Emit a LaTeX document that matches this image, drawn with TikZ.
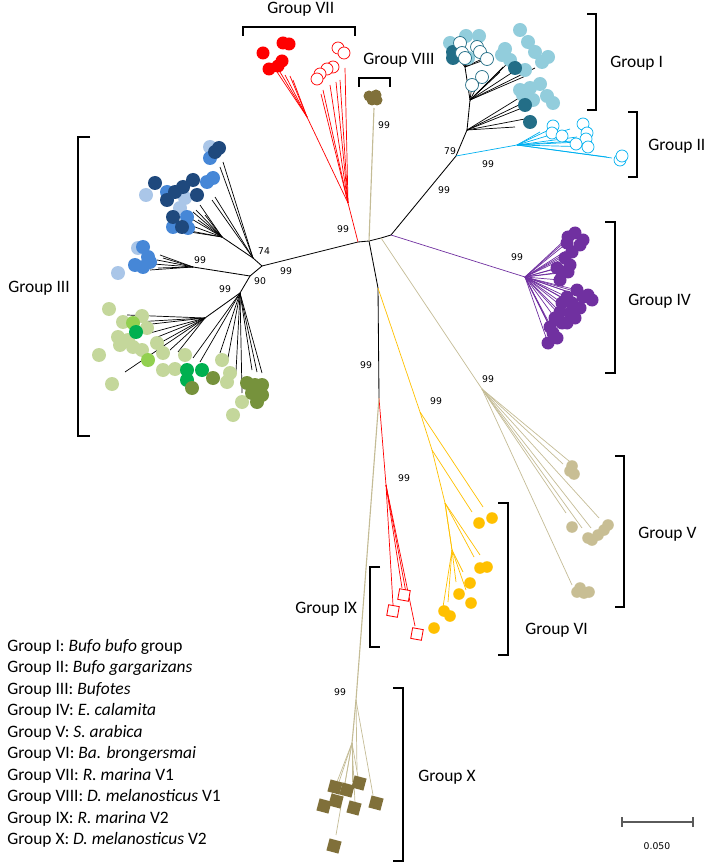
\documentclass[tikz,border=0pt]{standalone}
\usepackage{fontspec}
\setmainfont{Carlito}
\newfontfamily\numfont{DejaVu Sans}
\definecolor{redVII}{RGB}{255,0,0}
\definecolor{khakiLine}{RGB}{196,188,150}
\definecolor{oliveDark}{RGB}{128,112,58}
\definecolor{tanV}{RGB}{200,190,148}
\definecolor{purpleIV}{RGB}{112,48,160}
\definecolor{yellowVI}{RGB}{255,192,0}
\definecolor{cyanII}{RGB}{0,176,240}
\definecolor{lightBlueI}{RGB}{146,205,220}
\definecolor{tealI}{RGB}{35,110,135}
\definecolor{darkBlueIII}{RGB}{31,73,125}
\definecolor{blueIII}{RGB}{70,135,215}
\definecolor{paleBlueIII}{RGB}{170,198,232}
\definecolor{paleGreenIII}{RGB}{196,215,155}
\definecolor{limeIII}{RGB}{146,208,80}
\definecolor{greenIII}{RGB}{0,176,80}
\definecolor{oliveIII}{RGB}{118,146,60}
\definecolor{scaleGray}{RGB}{90,90,90}

\begin{document}
\begin{tikzpicture}[x=0.025cm,y=-0.025cm,
    trunk/.style={black,line width=0.6pt},
    twig/.style={line width=0.5pt},
    boot/.style={font=\numfont\fontsize{6.6}{8}\selectfont,inner sep=0pt},
    grp/.style={anchor=base west,font=\fontsize{12.4}{15}\selectfont,inner sep=0pt},
    grpBracket/.style={line width=1.4pt},
    legendline/.style={anchor=base west,font=\fontsize{12.4}{15}\selectfont,inner sep=0pt},
    sqIX/.style={draw=redVII,fill=white,line width=0.6pt,minimum size=0.27cm,inner sep=0pt,rotate=-10},
    sqX/.style={fill=oliveDark,minimum size=0.31cm,inner sep=0pt,rotate=-15}]
\useasboundingbox (0,0) rectangle (708,865);

% Inner nodes of the tree
\coordinate (c0) at (358,242);
\coordinate (c1) at (369,241);
\coordinate (c5) at (381,238);
\coordinate (c2) at (391,235);
\coordinate (c3) at (378,288);
\coordinate (c4) at (379,398);
\coordinate (nI) at (456,156);
\coordinate (nIa) at (467,130);
\coordinate (nIb) at (470,100);
\coordinate (nIc) at (465,67);
\coordinate (nII) at (517,145);
\coordinate (nIII) at (262,266);
\coordinate (nIIIup) at (253,258);
\coordinate (nIIIupb) at (222,237);
\coordinate (nIIIlo) at (250,276);
\coordinate (nIIImid) at (193,267);
\coordinate (nIIIgr) at (240,293);
\coordinate (nIIIgrb) at (205,318);
\coordinate (nIV) at (525,277);
\coordinate (nV) at (482,389);
\coordinate (nVI) at (420,412);
\coordinate (nVIb) at (432,450);
\coordinate (nVIc) at (445,503);
\coordinate (nVId) at (452,550);
\coordinate (nVIIb) at (348,203);
\coordinate (nVIIa) at (307,117);
\coordinate (nVIII) at (374,108);
\coordinate (nIX) at (386,485);
\coordinate (nX) at (356,700);
\coordinate (nXb) at (352,743);

% Backbone
\draw[trunk] (c0) -- (c1) -- (c5) -- (c2);
\draw[trunk] (c0) -- (nIII) -- (nIIIup);
\draw[trunk] (nIII) -- (nIIIlo) -- (nIIImid);
\draw[trunk] (nIIIlo) -- (nIIIgr) -- (nIIIgrb);
\draw[trunk] (nIIIup) -- (nIIIupb);
\draw[trunk] (c2) -- (nI) -- (nIa) -- (nIb) -- (nIc);
\draw[trunk] (c1) -- (c3) -- (c4);
\draw[twig,redVII] (c0) -- (nVIIb) -- (nVIIa);
\draw[twig,khakiLine,line width=0.8pt] (c1) -- (nVIII);
\draw[twig,purpleIV] (c2) -- (nIV);
\draw[twig,khakiLine] (c5) -- (nV);
\draw[twig,yellowVI] (c3) -- (nVI) -- (nVIb) -- (nVIc) -- (nVId);
\draw[twig,redVII] (c4) -- (nIX);
\draw[twig,khakiLine,line width=0.8pt] (c4) -- (nX) -- (nXb);
\draw[twig,cyanII] (nI) -- (nII);

% Leaf branches
\foreach \x/\y in {515/127,530/118,522/108,523/103,519/98}
  \draw[twig] (nIa) -- (\x,\y);
\foreach \x/\y in {503/67,513/72,528/75,500/72,535/68,508/63,482/77,472/85}
  \draw[twig] (nIb) -- (\x,\y);
\foreach \x/\y in {458/58,470/57,475/52,462/50,480/60,487/59}
  \draw[twig] (nIc) -- (\x,\y);
\foreach \x/\y in {540/132,553/128,570/129,577/137,587/140,593/147,607/157,612/158,580/142}
  \draw[twig,cyanII] (nII) -- (\x,\y);
\foreach \x/\y in {223/162,220/167,215/197,212/200}
  \draw[twig] (nIIIup) -- (\x,\y);
\foreach \x/\y in {193/212,190/218,187/224,196/210,200/205,185/230,190/232,198/220,205/215}
  \draw[twig] (nIIIupb) -- (\x,\y);
\foreach \x/\y in {160/255,157/260,153/264,150/270,158/268,163/258}
  \draw[twig] (nIIImid) -- (\x,\y);
\foreach \x/\y in {220/353,227/363,236/372,242/393,257/372,252/370,262/373,200/362,193/358}
  \draw[twig] (nIIIgr) -- (\x,\y);
\foreach \x/\y in {127/315,143/325,150/333,155/338,160/343,170/350,178/352,125/372,135/322}
  \draw[twig] (nIIIgrb) -- (\x,\y);
\foreach \x/\y in {568/237,575/233,580/245,567/243,565/258,570/265,562/272,568/272,560/280,557/268,572/252,583/240,
                   577/290,588/295,592/300,567/297,562/303,572/303,560/312,570/313,555/318,567/323,550/327,553/333,548/343,557/338,580/308,583/297}
  \draw[twig,purpleIV] (nIV) -- (\x,\y);
\foreach \x/\y in {563/464,566/513,582/528,591/528,599/518,572/585,575/466}
  \draw[twig,khakiLine] (nV) -- (\x,\y);
\draw[twig,yellowVI] (nVI) -- (483,507);
\draw[twig,yellowVI] (nVIb) -- (472,512);
\foreach \x/\y in {480/555,474/557,452/550}
  \draw[twig,yellowVI] (nVIc) -- (\x,\y);
\foreach \x/\y in {456/582,463/572,466/590,443/607,448/602}
  \draw[twig,yellowVI] (nVId) -- (\x,\y);
\foreach \x/\y in {277/72,285/75,290/76,293/80,280/72}
  \draw[twig,redVII] (nVIIa) -- (\x,\y);
\foreach \x/\y in {345/68,340/80,336/82,330/85,323/90,321/94}
  \draw[twig,redVII] (nVIIb) -- (\x,\y);
\foreach \x/\y in {393/605,402/588,407/598,415/626}
  \draw[twig,redVII] (nIX) -- (\x,\y);
\foreach \x/\y in {373/795,357/770}
  \draw[twig,khakiLine] (nX) -- (\x,\y);
\foreach \x/\y in {338/785,345/783,352/782,330/800,336/835,358/777,355/803}
  \draw[twig,khakiLine] (nXb) -- (\x,\y);

% Tips: Group I and II
\foreach \x/\y in {450/43,466/36,479/36,468/58,505/49,502/55,510/60,525/70,520/30,528/42,535/52,548/57,542/62,530/88,540/84,547/96,553/103,523/95,533/100,520/90}
  \fill[lightBlueI] (\x,\y) circle (7);
\foreach \x/\y in {453/52,453/58,515/68,525/105,530/122}
  \fill[tealI] (\x,\y) circle (7);
\foreach \x/\y in {460/43,462/53,465/58,477/47,480/52,487/59,482/77,472/85}
  \filldraw[fill=white,draw=tealI,line width=0.5pt] (\x,\y) circle (6.5);
\foreach \x/\y in {553/126,552/133,562/136,583/124,587/133,586/139,576/144,588/147,620/160,622/156}
  \filldraw[fill=white,draw=cyanII,line width=0.5pt] (\x,\y) circle (6);

% Tips: Group III
\foreach \x/\y in {210/147,146/195,185/198,180/208,138/248,118/273}
  \fill[paleBlueIII] (\x,\y) circle (7);
\foreach \x/\y in {210/158,167/192,207/182,213/178,188/228,173/227,187/217,143/247,148/257,135/265,143/267,150/262}
  \fill[blueIII] (\x,\y) circle (7);
\foreach \x/\y in {219/148,215/152,155/183,175/192,183/187,193/180,197/195,167/200,173/217,182/227}
  \fill[darkBlueIII] (\x,\y) circle (7);
\foreach \x/\y in {109/309,123/322,142/316,147/328,118/337,120/345,133/347,142/350,157/343,99/355,163/353,163/370,175/369,185/355,112/384,222/360,230/373,227/382,242/402,233/415,128/340}
  \fill[paleGreenIII] (\x,\y) circle (7);
\foreach \x/\y in {133/323,148/360}
  \fill[limeIII] (\x,\y) circle (7);
\foreach \x/\y in {136/332,187/370,187/380,202/370}
  \fill[greenIII] (\x,\y) circle (7);
\foreach \x/\y in {192/388,213/378,255/385,262/385,257/402,247/383,252/393,262/395}
  \fill[oliveIII] (\x,\y) circle (7);

% Tips: Group IV, V, VI
\foreach \x/\y in {568/237,575/233,580/245,567/243,565/258,570/265,562/272,568/272,560/280,557/268,572/252,583/240,
                   577/290,588/295,592/300,567/297,562/303,572/303,560/312,570/313,555/318,567/323,550/327,553/333,548/343,557/338,580/308,583/297,562/323,575/318}
  \fill[purpleIV] (\x,\y) circle (6.5);
\foreach \x/\y in {572/466,574/474,570/471,572/527,592/540,598/535,604/530,608/525,588/538,577/592,584/593,580/588,589/592}
  \fill[tanV] (\x,\y) circle (5.8);
\foreach \x/\y in {479/523,492/518,480/568,487/567,470/583,459/594,471/603,444/611,450/616,434/628}
  \fill[yellowVI] (\x,\y) circle (5.8);

% Tips: Group VII, VIII, IX, X
\foreach \x/\y in {263/53,283/43,289/44,282/61,269/69,278/66}
  \fill[redVII] (\x,\y) circle (6.5);
\foreach \x/\y in {338/48,344/53,333/67,327/69,320/74,317/79}
  \filldraw[fill=white,draw=redVII,line width=0.5pt] (\x,\y) circle (6);
\foreach \x/\y in {369/96,376/95,372/100,377/100}
  \fill[oliveDark] (\x,\y) circle (5.5);
\foreach \x/\y [count=\i] in {393/611,404/595,417/634}
  \node[sqIX] (sq\i) at (\x,\y) {};
\foreach \x/\y [count=\i] in {335/787,347/790,359/783,324/806,336/801,354/808,376/803,334/846}
  \node[sqX] (sqx\i) at (\x,\y) {};

% Bootstrap values
\node[boot] (bVII) at (343,229) {99};
\node[boot] (bVIII) at (384,125) {99};
\node[boot] (bI) at (450,151) {79};
\node[boot] (bIst) at (444,190) {99};
\node[boot] (bII) at (488,164) {99};
\node[boot] (bIV) at (517,257) {99};
\node[boot] (bV) at (488,379) {99};
\node[boot] (bVI) at (436,401) {99};
\node[boot] (bDown) at (366,365) {99};
\node[boot] (bIX) at (404,478) {99};
\node[boot] (bX) at (340,692) {99};
\node[boot] (bIIIa) at (264,251) {74};
\node[boot] (bIIIb) at (286,271) {99};
\node[boot] (bIIIc) at (260,281) {90};
\node[boot] (bIIId) at (200,260) {99};
\node[boot] (bIIIe) at (225,289) {99};

% Brackets
\draw[grpBracket] (243,36) -- (243,27) -- (355,27) -- (355,36);
\draw[grpBracket] (359,87) -- (359,78) -- (390,78) -- (390,87);
\draw[grpBracket] (587,14) -- (596,14) -- (596,110) -- (587,110);
\draw[grpBracket] (628,112) -- (637,112) -- (637,177) -- (628,177);
\draw[grpBracket] (90,137) -- (78,137) -- (78,436) -- (90,436);
\draw[grpBracket] (605,222) -- (615,222) -- (615,373) -- (605,373);
\draw[grpBracket] (615,456) -- (624,456) -- (624,607) -- (615,607);
\draw[grpBracket] (498,503) -- (508,503) -- (508,655) -- (498,655);
\draw[grpBracket] (380,567) -- (370,567) -- (370,647) -- (380,647);
\draw[grpBracket] (393,688) -- (403,688) -- (403,861) -- (393,861);

% Group labels
\node[grp] (lVII) at (267,14) {Group VII};
\node[grp] (lVIII) at (363,65) {Group VIII};
\node[grp] (lI) at (610,68) {Group I};
\node[grp] (lII) at (648,151) {Group II};
\node[grp] (lIII) at (8,292) {Group III};
\node[grp] (lIV) at (628,305) {Group IV};
\node[grp] (lV) at (638,538) {Group V};
\node[grp] (lVI) at (525,634) {Group VI};
\node[grp] (lIX) at (295,613) {Group IX};
\node[grp] (lX) at (418,781) {Group X};

% Legend
\node[legendline] (leg1) at (7,651) {Group I: \textit{Bufo bufo} group};
\node[legendline] (leg2) at (7,672.5) {Group II: \textit{Bufo gargarizans}};
\node[legendline] (leg3) at (7,694) {Group III: \textit{Bufotes}};
\node[legendline] (leg4) at (7,715.5) {Group IV: \textit{E. calamita}};
\node[legendline] (leg5) at (7,737) {Group V: \textit{S. arabica}};
\node[legendline] (leg6) at (7,758.5) {Group VI: \textit{Ba. brongersmai}};
\node[legendline] (leg7) at (7,780) {Group VII: \textit{R. marina} V1};
\node[legendline] (leg8) at (7,801.5) {Group VIII: \textit{D. melanosticus} V1};
\node[legendline] (leg9) at (7,823) {Group IX: \textit{R. marina} V2};
\node[legendline] (leg10) at (7,844.5) {Group X: \textit{D. melanosticus} V2};

% Scale bar
\coordinate (sbL) at (622,822);
\coordinate (sbR) at (693,822);
\draw[scaleGray,line width=1pt] (sbL) -- (sbR);
\draw[scaleGray,line width=1pt] ([yshift=-0.12cm]sbL) -- ([yshift=0.12cm]sbL);
\draw[scaleGray,line width=1pt] ([yshift=-0.12cm]sbR) -- ([yshift=0.12cm]sbR);
\node[boot] (sbText) at (657,846) {0.050};
\end{tikzpicture}
\end{document}
